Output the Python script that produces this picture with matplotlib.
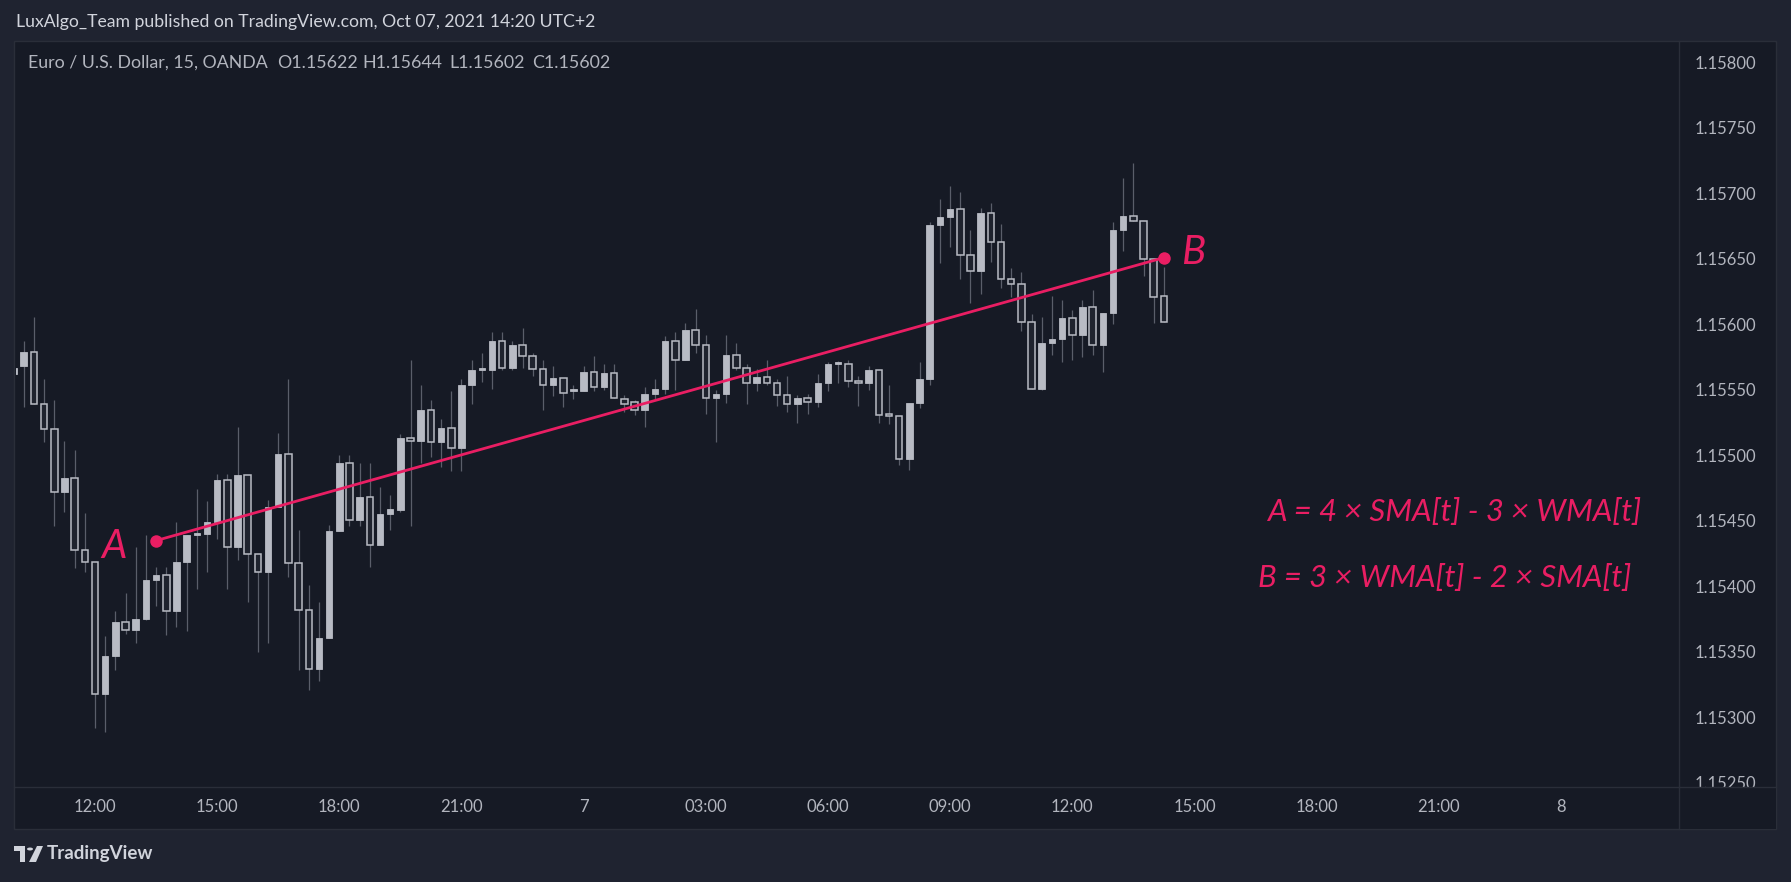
import matplotlib
matplotlib.use('Agg')
import matplotlib.pyplot as plt
from matplotlib.patches import Rectangle, Polygon, Circle
from matplotlib.lines import Line2D

W, H = 1791, 882
DPI = 100

# ---------------- data ----------------
bar_index = list(range(-8, 106))   # 15-min bars, 0 = 12:00 on the 6th
opens = [1.15562, 1.15568, 1.15579, 1.15539, 1.15520, 1.15472, 1.15483, 1.15428,
         1.15419, 1.15318, 1.15347, 1.15373, 1.15367, 1.15375, 1.15405, 1.15409,
         1.15381, 1.15419, 1.15439, 1.15440, 1.15449, 1.15481, 1.15430, 1.15485,
         1.15425, 1.15411, 1.15461, 1.15501, 1.15418, 1.15382, 1.15337, 1.15361,
         1.15442, 1.15494, 1.15451, 1.15468, 1.15432, 1.15455, 1.15458, 1.15513,
         1.15511, 1.15535, 1.15510, 1.15521, 1.15506, 1.15554, 1.15565, 1.15565,
         1.15587, 1.15567, 1.15584, 1.15576, 1.15566, 1.15554, 1.15559, 1.15549,
         1.15549, 1.15564, 1.15552, 1.15563, 1.15543, 1.15541, 1.15535, 1.15547,
         1.15551, 1.15587, 1.15573, 1.15596, 1.15584, 1.15544, 1.15547, 1.15577,
         1.15567, 1.15555, 1.15560, 1.15555, 1.15546, 1.15539, 1.15544, 1.15541,
         1.15555, 1.15570, 1.15570, 1.15557, 1.15555, 1.15565, 1.15531, 1.15530,
         1.15497, 1.15540, 1.15558, 1.15676, 1.15682, 1.15688, 1.15653, 1.15641,
         1.15685, 1.15663, 1.15635, 1.15631, 1.15602, 1.15551, 1.15586, 1.15589,
         1.15605, 1.15592, 1.15613, 1.15584, 1.15609, 1.15672, 1.15683, 1.15679,
         1.15650, 1.15622]
highs = [1.15569, 1.15587, 1.15606, 1.15558, 1.15542, 1.15511, 1.15504, 1.15456,
         1.15419, 1.15362, 1.15381, 1.15395, 1.15430, 1.15439, 1.15415, 1.15415,
         1.15449, 1.15439, 1.15474, 1.15465, 1.15486, 1.15486, 1.15522, 1.15485,
         1.15425, 1.15466, 1.15517, 1.15558, 1.15443, 1.15401, 1.15388, 1.15447,
         1.15500, 1.15500, 1.15494, 1.15494, 1.15476, 1.15470, 1.15516, 1.15573,
         1.15554, 1.15542, 1.15528, 1.15549, 1.15558, 1.15573, 1.15578, 1.15594,
         1.15594, 1.15587, 1.15597, 1.15578, 1.15573, 1.15568, 1.15559, 1.15554,
         1.15568, 1.15576, 1.15570, 1.15570, 1.15546, 1.15542, 1.15552, 1.15558,
         1.15591, 1.15594, 1.15601, 1.15612, 1.15592, 1.15550, 1.15592, 1.15586,
         1.15570, 1.15566, 1.15573, 1.15558, 1.15561, 1.15546, 1.15547, 1.15562,
         1.15571, 1.15572, 1.15573, 1.15561, 1.15568, 1.15565, 1.15554, 1.15530,
         1.15540, 1.15571, 1.15678, 1.15696, 1.15706, 1.15701, 1.15672, 1.15689,
         1.15693, 1.15677, 1.15643, 1.15640, 1.15608, 1.15606, 1.15622, 1.15619,
         1.15611, 1.15619, 1.15626, 1.15609, 1.15678, 1.15712, 1.15723, 1.15679,
         1.15650, 1.15644]
lows = [1.15560, 1.15537, 1.15539, 1.15510, 1.15446, 1.15457, 1.15414, 1.15411,
        1.15292, 1.15289, 1.15336, 1.15364, 1.15357, 1.15374, 1.15385, 1.15363,
        1.15369, 1.15366, 1.15398, 1.15411, 1.15436, 1.15398, 1.15420, 1.15388,
        1.15350, 1.15357, 1.15461, 1.15407, 1.15336, 1.15321, 1.15328, 1.15361,
        1.15442, 1.15446, 1.15446, 1.15415, 1.15432, 1.15443, 1.15457, 1.15446,
        1.15494, 1.15499, 1.15491, 1.15488, 1.15488, 1.15539, 1.15556, 1.15551,
        1.15565, 1.15565, 1.15567, 1.15561, 1.15535, 1.15545, 1.15537, 1.15543,
        1.15549, 1.15549, 1.15550, 1.15544, 1.15533, 1.15531, 1.15522, 1.15542,
        1.15547, 1.15550, 1.15573, 1.15578, 1.15532, 1.15510, 1.15540, 1.15565,
        1.15539, 1.15549, 1.15554, 1.15538, 1.15533, 1.15525, 1.15532, 1.15537,
        1.15549, 1.15555, 1.15552, 1.15538, 1.15550, 1.15525, 1.15524, 1.15493,
        1.15489, 1.15536, 1.15554, 1.15647, 1.15659, 1.15635, 1.15616, 1.15623,
        1.15648, 1.15628, 1.15621, 1.15595, 1.15551, 1.15550, 1.15577, 1.15571,
        1.15573, 1.15575, 1.15577, 1.15564, 1.15600, 1.15656, 1.15679, 1.15637,
        1.15601, 1.15602]
closes = [1.15567, 1.15579, 1.15539, 1.15520, 1.15472, 1.15483, 1.15428, 1.15419,
          1.15318, 1.15347, 1.15373, 1.15367, 1.15375, 1.15405, 1.15409, 1.15381,
          1.15419, 1.15439, 1.15439, 1.15449, 1.15481, 1.15430, 1.15485, 1.15425,
          1.15411, 1.15461, 1.15501, 1.15418, 1.15382, 1.15337, 1.15361, 1.15442,
          1.15494, 1.15451, 1.15468, 1.15432, 1.15455, 1.15459, 1.15513, 1.15511,
          1.15535, 1.15510, 1.15521, 1.15506, 1.15554, 1.15565, 1.15565, 1.15587,
          1.15567, 1.15584, 1.15576, 1.15566, 1.15554, 1.15559, 1.15548, 1.15549,
          1.15564, 1.15552, 1.15563, 1.15544, 1.15539, 1.15535, 1.15547, 1.15551,
          1.15587, 1.15573, 1.15596, 1.15584, 1.15544, 1.15547, 1.15577, 1.15567,
          1.15555, 1.15560, 1.15555, 1.15546, 1.15539, 1.15544, 1.15541, 1.15555,
          1.15570, 1.15570, 1.15557, 1.15555, 1.15565, 1.15531, 1.15530, 1.15497,
          1.15540, 1.15558, 1.15676, 1.15682, 1.15688, 1.15653, 1.15641, 1.15685,
          1.15663, 1.15635, 1.15631, 1.15602, 1.15551, 1.15586, 1.15589, 1.15605,
          1.15592, 1.15613, 1.15584, 1.15609, 1.15672, 1.15683, 1.15679, 1.15650,
          1.15621, 1.15602]

time_tick_index = [0, 12, 24, 36, 48, 60, 72, 84, 96, 108, 120, 132, 144]
time_tick_labels = ['12:00', '15:00', '18:00', '21:00', '7', '03:00', '06:00',
                    '09:00', '12:00', '15:00', '18:00', '21:00', '8']
price_ticks = [1.15250, 1.15300, 1.15350, 1.15400, 1.15450, 1.15500, 1.15550,
               1.15600, 1.15650, 1.15700, 1.15750, 1.15800]

line_index = [6, 105]
line_price = [1.15435, 1.15651]

header_text = "LuxAlgo_Team published on TradingView.com, Oct 07, 2021 14:20 UTC+2"
legend_parts = ["Euro / U.S. Dollar, 15, OANDA", "O1.15622", "H1.15644",
                "L1.15602", "C1.15602"]
formula_a = "A = 4 × SMA[t] - 3 × WMA[t]"
formula_b = "B = 3 × WMA[t] - 2 × SMA[t]"

# ---------------- style ----------------
OUTER = '#1f2330'
PANE = '#161a25'
BORDER = '#2a2e39'
BODY = '#b8bbc4'
HOLLOW = '#1f232e'
WICK = '#5a5e6a'
PINK = '#e91e63'
TXT = '#b2b5be'
FONT = ['Lato', 'DejaVu Sans']

plt.rcParams['font.family'] = FONT


def fx(x):
    return x / W


def fy(y):
    return 1 - y / H


fig = plt.figure(figsize=(W / DPI, H / DPI), dpi=DPI, facecolor=OUTER)

# chart frame background
fig.patches.append(Rectangle((fx(14), fy(829)), (1776 - 14) / W, (829 - 41) / H,
                             transform=fig.transFigure, facecolor=PANE,
                             edgecolor=BORDER, lw=1.0, zorder=-5))

ax = fig.add_axes([fx(16), fy(787), (1679 - 16) / W, (787 - 42) / H])
ax.set_facecolor(PANE)
ax.patch.set_alpha(0)
for s in ax.spines.values():
    s.set_visible(False)

ax.set_xlim(-7.76, 155.6)
ax.set_ylim(1.152469, 1.158156)

# candles
bw = 0.64
minh = 1.6e-5
for x, o, h, l, c in zip(bar_index, opens, highs, lows, closes):
    ax.vlines(x, l, h, color=WICK, lw=0.9, zorder=2)
    bottom = min(o, c)
    height = max(abs(c - o), minh)
    if c >= o:
        rect = Rectangle((x - bw / 2, bottom), bw, height, facecolor=BODY,
                         edgecolor=BODY, lw=0.6, zorder=3)
    else:
        rect = Rectangle((x - bw / 2, bottom), bw, height, facecolor=HOLLOW,
                         edgecolor=BODY, lw=1.1, zorder=3)
    ax.add_patch(rect)

# A-B line
ax.plot(line_index, line_price, color=PINK, lw=2.0, zorder=6,
        solid_capstyle='round')
ax.plot(line_index, line_price, 'o', color=PINK, ms=9, zorder=7, mec='none')

# ticks
ax.yaxis.tick_right()
ax.set_yticks(price_ticks)
ax.set_yticklabels([f"{p:.5f}" for p in price_ticks])
ax.tick_params(axis='y', length=0, pad=11.5, labelsize=12, labelcolor=TXT)
ax.set_xticks(time_tick_index)
ax.set_xticklabels(time_tick_labels)
ax.tick_params(axis='x', length=0, pad=9, labelsize=12, labelcolor=TXT)

# cover bottom-right corner (clips the lowest price label like the original)
fig.patches.append(Rectangle((fx(1679), fy(829)), (1776 - 1679) / W, (829 - 787) / H,
                             transform=fig.transFigure, facecolor=PANE,
                             edgecolor='none', zorder=5))
# border lines
for (x0, y0, x1, y1) in [(14, 787, 1776, 787), (1679, 41, 1679, 829)]:
    fig.lines.append(Line2D([fx(x0), fx(x1)], [fy(y0), fy(y1)],
                            transform=fig.transFigure, color=BORDER, lw=1.0,
                            zorder=6))

# labels A / B
fig.text(fx(114), fy(546), 'A', color=PINK, fontsize=29, style='italic',
         ha='center', va='center')
fig.text(fx(1193), fy(252), 'B', color=PINK, fontsize=29, style='italic',
         ha='center', va='center')

# formulas
fig.text(fx(1641), fy(512), formula_a, color=PINK, fontsize=22.3, style='italic',
         ha='right', va='center')
fig.text(fx(1631), fy(578), formula_b, color=PINK, fontsize=22.3, style='italic',
         ha='right', va='center')

# header and legend
fig.text(fx(16), fy(22), header_text, color='#d1d4dc', fontsize=12.7,
         ha='left', va='center')
legend_x = [27.7, 276.7, 362.8, 449, 532]
for px, part in zip(legend_x, legend_parts):
    fig.text(fx(px), fy(63), part, color=TXT, fontsize=12.8,
             ha='left', va='center')

# TradingView logo
lc = '#d1d4dc'
fig.patches.append(Rectangle((fx(14), fy(851)), 11 / W, 5 / H,
                             transform=fig.transFigure, facecolor=lc, edgecolor='none'))
fig.patches.append(Rectangle((fx(20), fy(862)), 5 / W, 12 / H,
                             transform=fig.transFigure, facecolor=lc, edgecolor='none'))
fig.patches.append(Circle((fx(30), fy(849)), 3 / W, transform=fig.transFigure,
                          facecolor=lc, edgecolor='none'))
fig.patches.append(Polygon([(fx(29), fy(862)), (fx(36), fy(862)), (fx(43), fy(846)),
                            (fx(37), fy(846))], closed=True,
                           transform=fig.transFigure, facecolor=lc, edgecolor='none'))
fig.text(fx(47), fy(854), 'TradingView', color=lc, fontsize=13.5,
         fontweight='bold', ha='left', va='center')

fig.savefig('out.png', dpi=DPI, facecolor=OUTER)
